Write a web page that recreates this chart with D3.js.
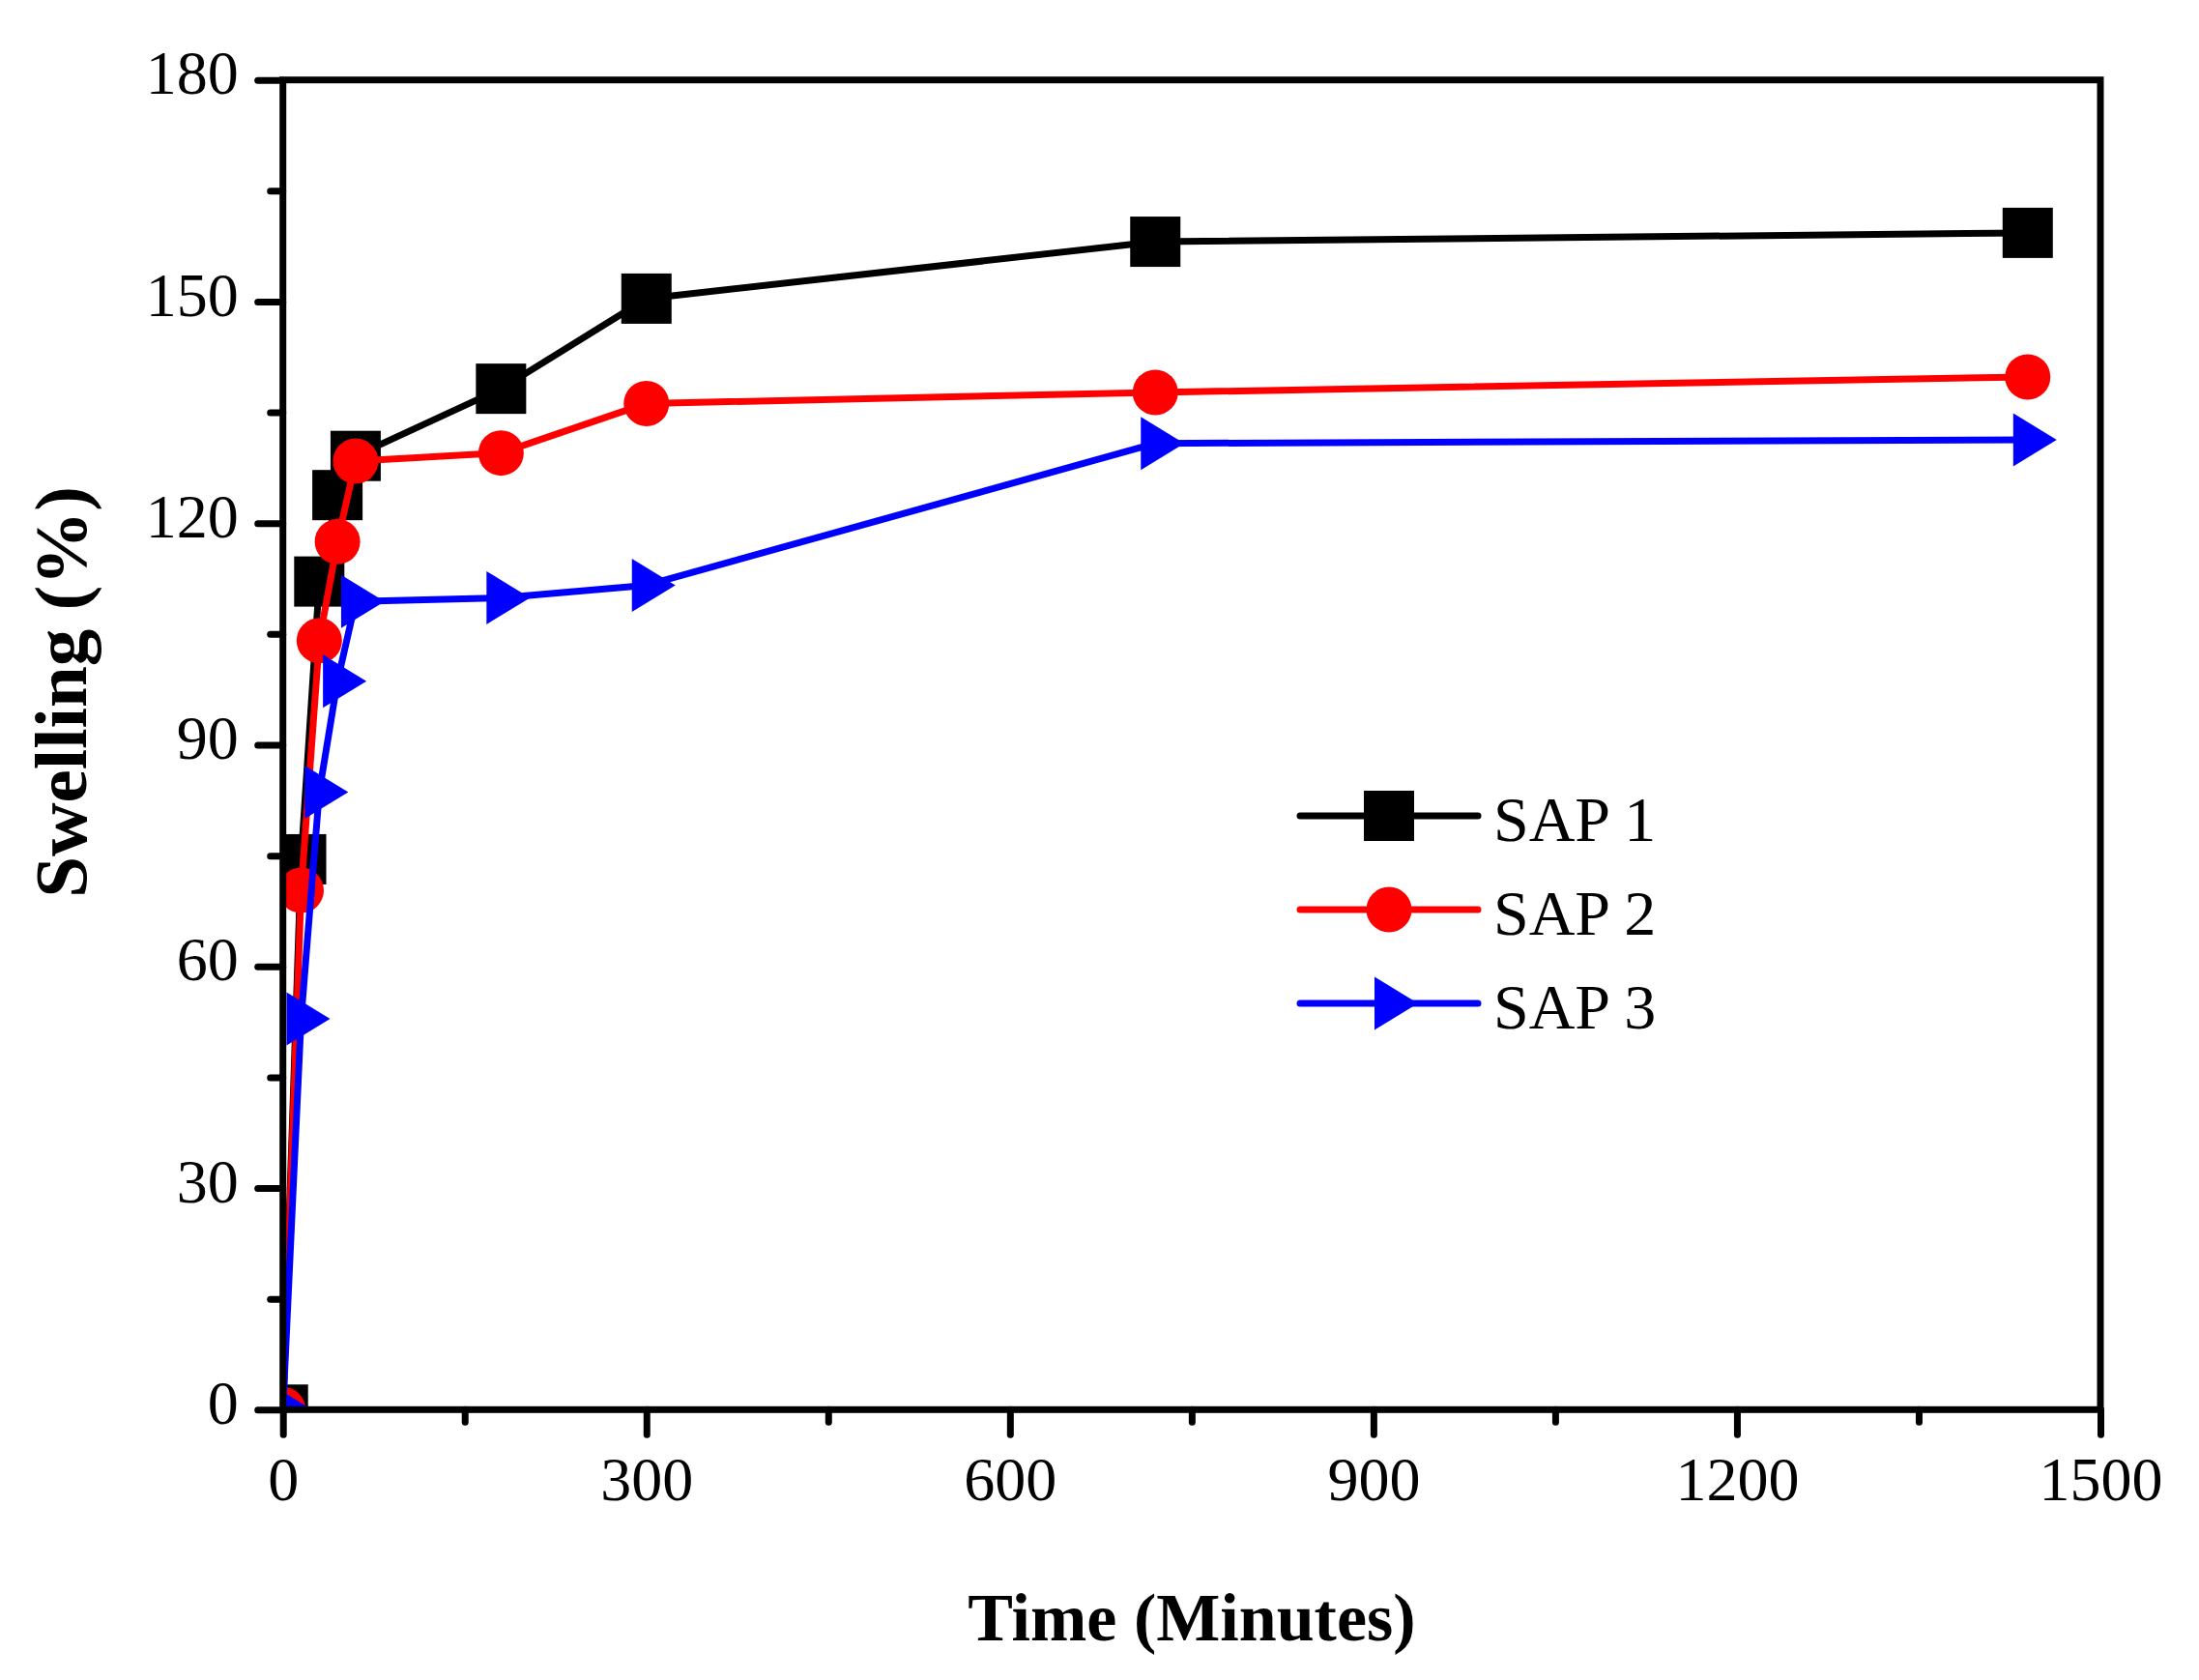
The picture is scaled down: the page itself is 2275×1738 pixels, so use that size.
<!DOCTYPE html>
<html>
<head>
<meta charset="utf-8">
<script src="https://cdn.jsdelivr.net/npm/d3@7"></script>
<style>
    body { margin: 0; background: #fff; }
    svg { display: block; }
    .tick text { font-family: "Liberation Serif", "DejaVu Serif", serif; fill: #000; }
</style>
</head>
<body>
<div id="chart"></div>
<script>
// Values
const times = [0, 15, 30, 45, 60, 180, 300, 720, 1440];
const sap1 = [0, 74.5, 112.1, 123.8, 129.1, 138.2, 150.4, 158.1, 159.3];
const sap2 = [0, 70.3, 104.1, 117.5, 128.4, 129.5, 136.2, 137.7, 139.8];
const sap3 = [0, 52.9, 83.6, 98.6, 109.4, 109.9, 111.6, 130.8, 131.3];
const seriesNames = ["SAP 1", "SAP 2", "SAP 3"];
const xTicks = [0, 300, 600, 900, 1200, 1500];
const xMinor = [150, 450, 750, 1050, 1350];
const yTicks = [0, 30, 60, 90, 120, 150, 180];
const yMinor = [15, 45, 75, 105, 135, 165];

const W = 2275, H = 1738;
const plot = { left: 292.7, right: 2173, top: 82.7, bottom: 1458.3 };

const svg = d3.select("#chart").append("svg")
    .attr("width", W)
    .attr("height", H);

svg.append("rect").attr("width", W).attr("height", H).attr("fill", "#fff");

const x = d3.scaleLinear().domain([0, 1500]).range([plot.left, plot.right]);
const y = d3.scaleLinear().domain([0, 180]).range([plot.bottom, plot.top]);

// Clip markers to the plot area (the points at t=0 are cut off by the axes)
svg.append("clipPath").attr("id", "plot-clip")
    .append("rect")
    .attr("x", plot.left).attr("y", plot.top)
    .attr("width", plot.right - plot.left)
    .attr("height", plot.bottom - plot.top);

const colours = ["#000000", "#ff0000", "#0000ff"];
const values = [sap1, sap2, sap3];

// Marker shapes: square, circle, right-pointing triangle
function drawMarker(g, i, colour) {
    if (i === 0) {
        g.append("rect").attr("x", -26).attr("y", -26).attr("width", 52).attr("height", 52).attr("fill", colour);
    } else if (i === 1) {
        g.append("circle").attr("r", 23.5).attr("fill", colour);
    } else {
        g.append("path").attr("d", "M-15,-27.5L-15,27.5L30,0Z").attr("fill", colour);
    }
}

const line = d3.line().x(d => x(d[0])).y(d => y(d[1]));

const plotArea = svg.append("g").attr("clip-path", "url(#plot-clip)");

values.forEach((vals, i) => {
    const pts = times.map((t, j) => [t, vals[j]]);
    const g = plotArea.append("g");

    g.append("path")
        .datum(pts)
        .attr("d", line)
        .attr("fill", "none")
        .attr("stroke", colours[i])
        .attr("stroke-width", 7)
        .attr("stroke-linejoin", "round");

    g.selectAll(".marker")
        .data(pts)
        .enter()
        .append("g")
        .attr("class", "marker")
        .attr("transform", d => `translate(${x(d[0])},${y(d[1])})`)
        .each(function () { drawMarker(d3.select(this), i, colours[i]); });
});

// Frame
svg.append("rect")
    .attr("x", plot.left).attr("y", plot.top)
    .attr("width", plot.right - plot.left)
    .attr("height", plot.bottom - plot.top)
    .attr("fill", "none")
    .attr("stroke", "#000")
    .attr("stroke-width", 7);

// Axes: major ticks with labels, minor ticks without
function styleAxis(g) {
    g.select(".domain").remove();
    g.selectAll(".tick line")
        .attr("stroke", "#000")
        .attr("stroke-width", 7)
        .attr("stroke-linecap", "round");
}

svg.append("g")
    .attr("transform", `translate(0,${plot.bottom})`)
    .call(d3.axisBottom(x).tickValues(xTicks).tickSize(26).tickPadding(22).tickFormat(d3.format("d")))
    .call(styleAxis)
    .selectAll("text").style("font-size", "64px");

svg.append("g")
    .attr("transform", `translate(0,${plot.bottom})`)
    .call(d3.axisBottom(x).tickValues(xMinor).tickSize(13).tickFormat(""))
    .call(styleAxis);

svg.append("g")
    .attr("transform", `translate(${plot.left},0)`)
    .call(d3.axisLeft(y).tickValues(yTicks).tickSize(26).tickPadding(20).tickFormat(d3.format("d")))
    .call(styleAxis)
    .selectAll("text").style("font-size", "64px").attr("dy", "0.22em");

svg.append("g")
    .attr("transform", `translate(${plot.left},0)`)
    .call(d3.axisLeft(y).tickValues(yMinor).tickSize(13).tickFormat(""))
    .call(styleAxis);

// Axis titles
svg.append("text")
    .attr("x", (plot.left + plot.right) / 2)
    .attr("y", 1697)
    .attr("text-anchor", "middle")
    .style("font-family", "'Liberation Serif', 'DejaVu Serif', serif")
    .style("font-weight", "bold")
    .style("font-size", "70px")
    .text("Time (Minutes)");

svg.append("text")
    .attr("transform", "translate(89,716) rotate(-90)")
    .attr("text-anchor", "middle")
    .style("font-family", "'Liberation Serif', 'DejaVu Serif', serif")
    .style("font-weight", "bold")
    .style("font-size", "77px")
    .text("Swelling (%)");

// Legend
const legend = svg.append("g");
seriesNames.forEach((name, i) => {
    const ly = 844 + i * 97;
    const item = legend.append("g");
    item.append("line")
        .attr("x1", 1345).attr("x2", 1529)
        .attr("y1", ly).attr("y2", ly)
        .attr("stroke", colours[i])
        .attr("stroke-width", 7)
        .attr("stroke-linecap", "round");
    drawMarker(item.append("g").attr("transform", `translate(1437,${ly})`), i, colours[i]);
    item.append("text")
        .attr("x", 1545)
        .attr("y", ly + 26)
        .style("font-family", "'Liberation Serif', 'DejaVu Serif', serif")
        .style("font-size", "66px")
        .text(name);
});
</script>
</body>
</html>
